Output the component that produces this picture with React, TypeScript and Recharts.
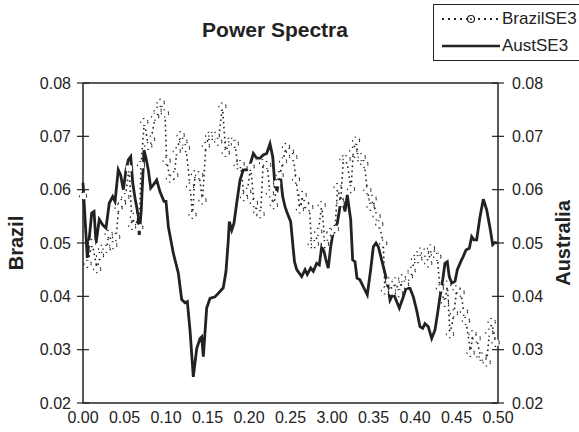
import React from "react";
import { Legend, Line, LineChart, ReferenceLine, XAxis, YAxis } from "recharts";

const brazilFreq = [
  0.0, 0.0056, 0.011, 0.017, 0.0205, 0.023, 0.0285, 0.031, 0.0365, 0.04, 0.043, 0.047, 0.051, 0.0555,
  0.0594, 0.0614, 0.0679, 0.0699, 0.0739, 0.0787, 0.082, 0.087, 0.09, 0.0936, 0.0988, 0.1008, 0.1048,
  0.11, 0.113, 0.1177, 0.121, 0.124, 0.129, 0.132, 0.135, 0.14, 0.144, 0.148, 0.152, 0.156, 0.16, 0.163,
  0.168, 0.172, 0.176, 0.18, 0.183, 0.1864, 0.19, 0.194, 0.198, 0.202, 0.206, 0.21, 0.214, 0.217, 0.222,
  0.2253, 0.23, 0.234, 0.237, 0.241, 0.2446, 0.2494, 0.2534, 0.2566, 0.2614, 0.2647, 0.2675, 0.2727,
  0.2755, 0.2795, 0.2835, 0.2876, 0.2916, 0.2948, 0.2984, 0.3036, 0.3068, 0.3104, 0.3137, 0.3177, 0.3229,
  0.3257, 0.329, 0.3317, 0.3358, 0.339, 0.3426, 0.3466, 0.349, 0.3538, 0.357, 0.3618, 0.3638, 0.369,
  0.3727, 0.3767, 0.3807, 0.3847, 0.388, 0.3928, 0.396, 0.4, 0.404, 0.4068, 0.412, 0.416, 0.4193, 0.4241,
  0.4269, 0.43, 0.4361, 0.4389, 0.4422, 0.447, 0.4502, 0.455, 0.459, 0.4614, 0.467, 0.4695, 0.4743, 0.479,
  0.4816, 0.4864, 0.4896, 0.4924, 0.4972,
];
const brazilPower = [
  0.0588, 0.0461, 0.05, 0.0451, 0.0476, 0.0489, 0.0489, 0.0517, 0.0496, 0.0511, 0.0566, 0.0575, 0.0586, 0.064,
  0.0532, 0.0549, 0.0529, 0.0646, 0.0727, 0.0682, 0.0694, 0.0737, 0.0748, 0.0763, 0.0743, 0.0654, 0.0621,
  0.0627, 0.0672, 0.0702, 0.069, 0.0678, 0.0606, 0.0553, 0.0629, 0.0627, 0.058, 0.0682, 0.0701, 0.0701, 0.0701, 0.069,
  0.0756, 0.0669, 0.069, 0.069, 0.0686, 0.0646, 0.0648, 0.0586, 0.0596, 0.0643, 0.0575, 0.0558, 0.0554, 0.065, 0.0646,
  0.0593, 0.0571, 0.0612, 0.0627, 0.0653, 0.068, 0.0671, 0.0661, 0.0619, 0.0563, 0.059, 0.0573, 0.0567,
  0.0498, 0.0498, 0.0521, 0.0571, 0.0498, 0.0512, 0.0521, 0.0526, 0.0605, 0.0575, 0.0657, 0.0657, 0.0601,
  0.0673, 0.0692, 0.0661, 0.0661, 0.0648, 0.0599, 0.0568, 0.0583, 0.055, 0.0535, 0.0499, 0.0411, 0.0428,
  0.0409, 0.0428, 0.0406, 0.0434, 0.0422, 0.0437, 0.0448, 0.047, 0.047, 0.0484, 0.0482, 0.0462, 0.049, 0.0478,
  0.0474, 0.0415, 0.0388, 0.0422, 0.0329, 0.0368, 0.0413, 0.0407, 0.0371, 0.0354, 0.0294, 0.0329, 0.0321, 0.0287,
  0.0287, 0.0276, 0.0332, 0.0352, 0.0313,
];

const austFreq = [
  0.0, 0.0052, 0.0105, 0.0133, 0.0157, 0.0196, 0.0237, 0.0277, 0.0317, 0.0358, 0.0386, 0.0425, 0.0454,
  0.0486, 0.0518, 0.0546, 0.0575, 0.0599, 0.0627, 0.0654, 0.0678, 0.0702, 0.0735, 0.0759, 0.0787, 0.0816,
  0.0847, 0.0888, 0.0928, 0.0976, 0.1, 0.1028, 0.1088, 0.1148, 0.1189, 0.1229, 0.1257, 0.1289, 0.1329,
  0.137, 0.141, 0.143, 0.145, 0.149, 0.153, 0.159, 0.165, 0.169, 0.1723, 0.175, 0.1763, 0.1792, 0.1819,
  0.1852, 0.1892, 0.1931, 0.1972, 0.2012, 0.2052, 0.2093, 0.2133, 0.2172, 0.2213, 0.2253, 0.2286, 0.2313,
  0.2341, 0.2373, 0.2406, 0.2434, 0.2461, 0.2502, 0.2534, 0.2548, 0.2575, 0.2635, 0.2675, 0.2702, 0.2743,
  0.2775, 0.2816, 0.2847, 0.2876, 0.2904, 0.2928, 0.2955, 0.2984, 0.3018, 0.3064, 0.3096, 0.3129, 0.3157,
  0.3184, 0.3225, 0.3249, 0.3277, 0.3301, 0.3337, 0.3377, 0.3425, 0.3466, 0.3498, 0.353, 0.3558, 0.3599,
  0.3639, 0.3678, 0.3699, 0.3739, 0.378, 0.3811, 0.3852, 0.3892, 0.394, 0.398, 0.402, 0.406, 0.4093, 0.412,
  0.416, 0.4201, 0.4241, 0.4269, 0.4301, 0.4334, 0.4361, 0.4389, 0.4413, 0.4442, 0.4482, 0.451, 0.4551,
  0.4582, 0.4614, 0.4654, 0.4683, 0.4711, 0.4743, 0.4783, 0.4823, 0.4864, 0.4904, 0.4936, 0.4964, 0.4992,
];
const austPower = [
  0.0613, 0.0472, 0.0556, 0.0559, 0.05, 0.0544, 0.0534, 0.0528, 0.0575, 0.0587, 0.0578, 0.0637, 0.0627,
  0.06, 0.0637, 0.0656, 0.0662, 0.0613, 0.0584, 0.0562, 0.0515, 0.0562, 0.0674, 0.0659, 0.0637, 0.0603,
  0.0609, 0.0618, 0.0596, 0.0578, 0.0578, 0.0531, 0.0481, 0.0444, 0.0394, 0.0388, 0.039, 0.0337, 0.0249,
  0.0302, 0.0321, 0.0324, 0.0287, 0.0378, 0.0396, 0.0399, 0.0409, 0.0416, 0.0447, 0.0504, 0.054, 0.0524, 0.0537,
  0.0575, 0.0618, 0.0637, 0.0637, 0.0646, 0.0668, 0.0659, 0.0659, 0.0665, 0.0668, 0.0686, 0.0662, 0.0606,
  0.06, 0.0634, 0.0587, 0.0568, 0.0556, 0.054, 0.0487, 0.0465, 0.045, 0.0437, 0.045, 0.0441, 0.0453,
  0.0447, 0.0462, 0.0459, 0.0493, 0.0484, 0.0468, 0.0453, 0.0493, 0.0524, 0.0537, 0.0568, 0.0578, 0.0559,
  0.059, 0.0544, 0.0468, 0.0465, 0.0434, 0.0431, 0.0418, 0.0403, 0.045, 0.0493, 0.05, 0.0493, 0.0468,
  0.0443, 0.0415, 0.0393, 0.0406, 0.039, 0.0378, 0.0396, 0.0415, 0.0415, 0.0399, 0.0374, 0.0343, 0.034, 0.0349,
  0.0343, 0.0321, 0.0337, 0.0365, 0.0399, 0.0431, 0.0462, 0.0465, 0.0437, 0.0425, 0.0428, 0.045, 0.0465,
  0.0475, 0.0487, 0.049, 0.0512, 0.0506, 0.0506, 0.0549, 0.0582, 0.0562, 0.0528, 0.0497, 0.0501, 0.05,
];

const xTicks = [0, 0.05, 0.1, 0.15, 0.2, 0.25, 0.3, 0.35, 0.4, 0.45, 0.5];
// the source figure really prints "3.00" under 0.30
const xTickLabels = ["0.00", "0.05", "0.10", "0.15", "0.20", "0.25", "3.00", "0.35", "0.40", "0.45", "0.50"];
const yTicks = [0.02, 0.03, 0.04, 0.05, 0.06, 0.07, 0.08];
const legendOrder = ["BrazilSE3", "AustSE3"];

const brazilData = brazilFreq.map((freq, i) => ({ freq, power: brazilPower[i] }));
const austData = austFreq.map((freq, i) => ({ freq, power: austPower[i] }));

const FONT = "'Liberation Sans', Arial, Helvetica, sans-serif";
const INK = "#222";

function LeftTick({ x, y, payload }: any) {
  return (
    <g>
      <line x1={x + 6} x2={x + 18} y1={y} y2={y} stroke={INK} strokeWidth={1.2} />
      <text x={x} y={y} dy={5.5} textAnchor="end" fontSize={16} fontFamily={FONT} fill={INK}>
        {Number(payload.value).toFixed(2)}
      </text>
    </g>
  );
}

function RightTick({ x, y, payload }: any) {
  return (
    <g>
      <line x1={x - 18} x2={x - 6} y1={y} y2={y} stroke={INK} strokeWidth={1.2} />
      <text x={x + 2} y={y} dy={5.5} textAnchor="start" fontSize={16} fontFamily={FONT} fill={INK}>
        {Number(payload.value).toFixed(2)}
      </text>
    </g>
  );
}

function SideLabel({ viewBox, value, offsetX }: any) {
  const cx = viewBox.x + offsetX;
  const cy = viewBox.y + viewBox.height / 2;
  return (
    <text
      x={cx}
      y={cy}
      transform={`rotate(-90 ${cx} ${cy})`}
      textAnchor="middle"
      dominantBaseline="central"
      fontSize={20}
      fontWeight="bold"
      fontFamily={FONT}
      fill={INK}
    >
      {value}
    </text>
  );
}

function LegendBox({ payload }: any) {
  const items = [...(payload || [])].sort(
    (a: any, b: any) => legendOrder.indexOf(a.value) - legendOrder.indexOf(b.value)
  );
  return (
    <div
      style={{
        border: `1px solid ${INK}`,
        width: 150,
        height: 57,
        boxSizing: "border-box",
        fontFamily: FONT,
        fontSize: 17,
        color: INK,
        background: "#fff",
      }}
    >
      {items.map((item: any) => {
        const dotted = item.value === "BrazilSE3";
        return (
          <div key={item.value} style={{ display: "flex", alignItems: "center", height: 27, paddingLeft: 6 }}>
            <svg width={60} height={12}>
              <line
                x1={2}
                x2={60}
                y1={6}
                y2={6}
                stroke={INK}
                strokeWidth={dotted ? 1.8 : 2.5}
                strokeDasharray={dotted ? "2 4" : undefined}
              />
              {dotted && <circle cx={31} cy={6} r={3.5} fill="#fff" stroke={INK} strokeWidth={1.2} />}
              {dotted && <circle cx={31} cy={6} r={0.9} fill={INK} />}
            </svg>
            <span style={{ marginLeft: 2 }}>{item.value}</span>
          </div>
        );
      })}
    </div>
  );
}

export default function App() {
  return (
    <div style={{ position: "absolute", left: 0, top: 0, width: 579, height: 432, background: "#fff" }}>
      <div
        style={{
          position: "absolute",
          left: 175,
          top: 18,
          width: 200,
          textAlign: "center",
          fontFamily: FONT,
          fontWeight: "bold",
          fontSize: 21,
          color: INK,
        }}
      >
        Power Spectra
      </div>
      <LineChart width={579} height={432} margin={{ top: 83, right: 0, bottom: 0, left: 0 }}>
        <XAxis
          dataKey="freq"
          type="number"
          domain={[0, 0.5]}
          ticks={xTicks}
          tickFormatter={(_v: number, i: number) => xTickLabels[i]}
          allowDuplicatedCategory={false}
          height={29}
          tickLine={false}
          tickSize={0}
          tickMargin={9}
          axisLine={{ stroke: INK, strokeWidth: 1.5 }}
          tick={{ fontSize: 16, fontFamily: FONT, fill: INK }}
          interval={0}
        />
        <YAxis
          yAxisId="left"
          orientation="left"
          width={83}
          domain={[0.02, 0.08]}
          ticks={yTicks}
          tickLine={false}
          tickSize={0}
          tickMargin={12}
          axisLine={{ stroke: INK, strokeWidth: 1.5 }}
          tick={<LeftTick />}
          interval={0}
          label={<SideLabel value="Brazil" offsetX={16} />}
        />
        <YAxis
          yAxisId="right"
          orientation="right"
          width={81}
          domain={[0.02, 0.08]}
          ticks={yTicks}
          tickLine={false}
          tickSize={0}
          tickMargin={12}
          axisLine={{ stroke: INK, strokeWidth: 1.5 }}
          tick={<RightTick />}
          interval={0}
          label={<SideLabel value="Australia" offsetX={65} />}
        />
        <ReferenceLine yAxisId="left" y={0.08} stroke={INK} strokeWidth={1.5} />
        <Legend
          layout="horizontal"
          verticalAlign="middle"
          align="center"
          wrapperStyle={{ position: "absolute", left: 433, top: 4, width: 150 }}
          content={<LegendBox />}
        />
        <Line
          yAxisId="left"
          data={brazilData}
          dataKey="power"
          name="BrazilSE3"
          type="linear"
          stroke={INK}
          strokeWidth={1.6}
          strokeDasharray="1.6 3.4"
          dot={{ r: 3.6, stroke: INK, strokeWidth: 1.1, fill: "#fff" }}
          isAnimationActive={false}
        />
        <Line
          yAxisId="right"
          data={austData}
          dataKey="power"
          name="AustSE3"
          type="linear"
          stroke={INK}
          strokeWidth={2.8}
          dot={false}
          isAnimationActive={false}
        />
      </LineChart>
    </div>
  );
}
